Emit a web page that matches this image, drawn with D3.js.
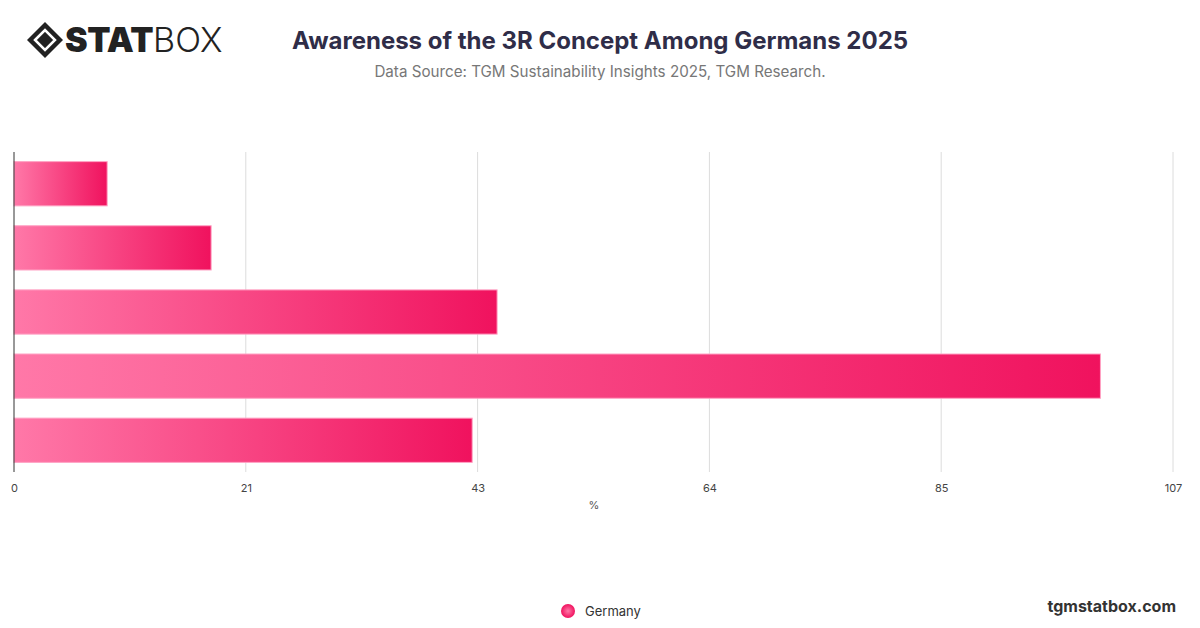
<!DOCTYPE html>
<html><head><meta charset="utf-8">
<script src="https://cdn.jsdelivr.net/npm/d3@7"></script>
<style>body{margin:0;background:#fff;font-family:Inter,"Open Sans",sans-serif}</style>
</head><body><svg id="c" width="1200" height="628"></svg>
<script>
const categories=["A","B","C","D","E"];
const values=[8.6,18.2,44.6,100.3,42.3];
const tickValues=[0,21.4,42.8,64.2,85.6,107];
const tickLabels=["0","21","43","64","85","107"];
const seriesName="Germany";

const svg=d3.select("#c");
const x=d3.scaleLinear().domain([0,107]).range([14,1173]);
const y=d3.scaleBand().domain(categories).range([152,472]).paddingInner(0.31).paddingOuter(0.15);

const defs=svg.append("defs");
const g=defs.append("linearGradient").attr("id","gr").attr("x1","0").attr("x2","1").attr("y1","0").attr("y2","0");
g.append("stop").attr("offset","0").attr("stop-color","#ff78a8");
g.append("stop").attr("offset","1").attr("stop-color","#f0125e");
const lg=defs.append("radialGradient").attr("id","lg");
lg.append("stop").attr("offset","0").attr("stop-color","#ff78a8");
lg.append("stop").attr("offset","1").attr("stop-color","#f0125e");

svg.append("g").selectAll("line").data(tickValues.slice(1)).join("line")
 .attr("x1",d=>x(d)).attr("x2",d=>x(d)).attr("y1",152).attr("y2",472)
 .attr("stroke","#dcdcdc").attr("stroke-width",1);

svg.append("g").selectAll("rect").data(values).join("rect")
 .attr("x",x(0)).attr("y",(d,i)=>y(categories[i])).attr("height",y.bandwidth())
 .attr("width",d=>x(d)-x(0)).attr("fill","url(#gr)").attr("stroke","#ffa3c4").attr("stroke-width",1);

svg.append("line").attr("x1",14).attr("x2",14).attr("y1",152).attr("y2",472).attr("stroke","#333");

const ax=svg.append("g").attr("transform","translate(0,472)").call(d3.axisBottom(x).tickValues(tickValues).tickFormat((d,i)=>tickLabels[i]).tickSize(0).tickPadding(12));
ax.select(".domain").remove();
ax.selectAll("text").attr("font-size",11).attr("fill","#444").attr("font-family","Inter,sans-serif");

svg.append("text").attr("x",594).attr("y",509).attr("text-anchor","middle").attr("font-size",11).attr("fill","#555").text("%");

svg.append("text").attr("x",600).attr("y",49).attr("text-anchor","middle").attr("font-size",24).attr("font-weight",700).attr("fill","#2f2d48").text("Awareness of the 3R Concept Among Germans 2025");
svg.append("text").attr("x",600).attr("y",77).attr("text-anchor","middle").attr("font-size",15.2).attr("fill","#777").text("Data Source: TGM Sustainability Insights 2025, TGM Research.");

const lo=svg.append("g").attr("transform","translate(45,40)");
lo.append("path").attr("d","M-18,0 L0,-18 L18,0 L0,18 Z").attr("fill","#222");
lo.append("path").attr("d","M-10,0 L0,-10 L10,0 L0,10 Z").attr("fill","none").attr("stroke","#fff").attr("stroke-width",2.5);
svg.append("text").attr("x",65).attr("y",52).attr("font-size",34).attr("font-weight",900).attr("fill","#222").attr("font-family","Inter,sans-serif").attr("letter-spacing",-0.5).text("STAT")
 .append("tspan").attr("font-weight",300).attr("letter-spacing",0).text("BOX");

svg.append("circle").attr("cx",568).attr("cy",611).attr("r",7).attr("fill","url(#lg)");
svg.append("text").attr("x",585).attr("y",616).attr("font-size",13).attr("fill","#333").text(seriesName);
svg.append("text").attr("x",1176).attr("y",612).attr("text-anchor","end").attr("font-size",16).attr("font-weight",700).attr("fill","#333").text("tgmstatbox.com");
</script></body></html>
